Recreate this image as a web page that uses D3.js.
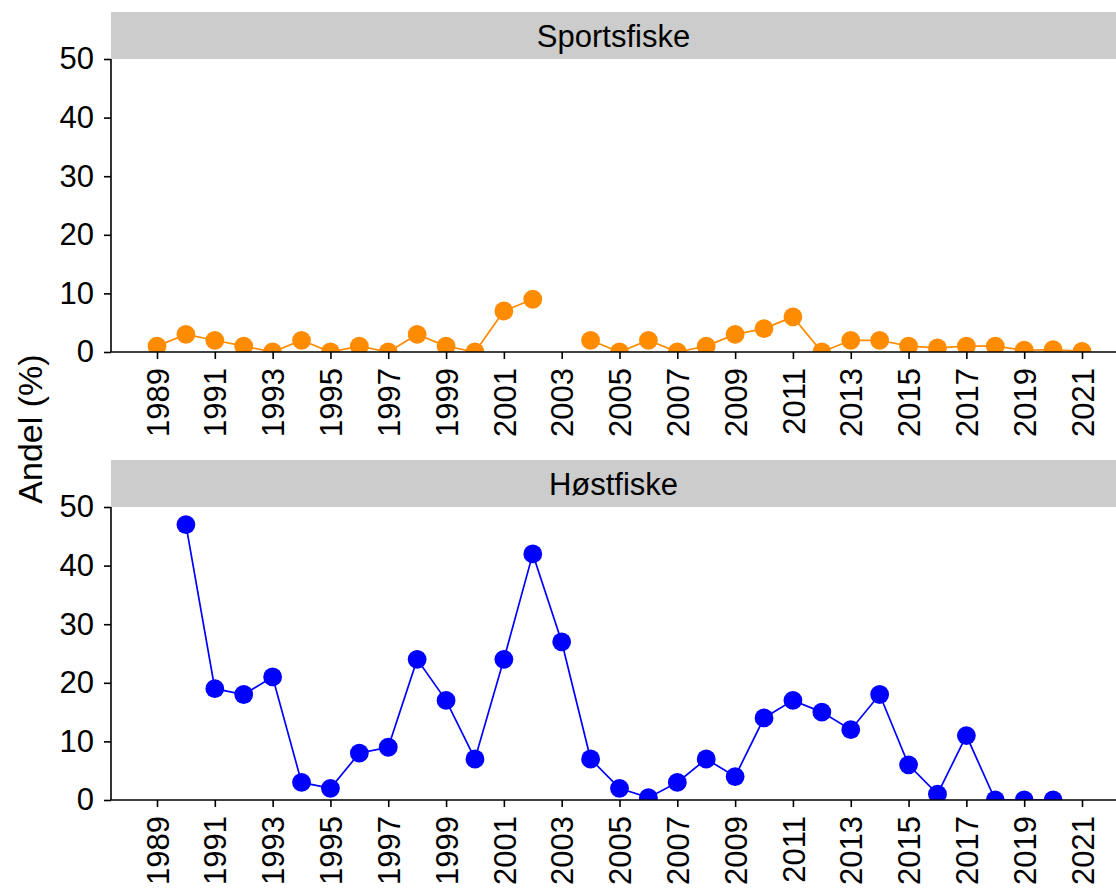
<!DOCTYPE html>
<html>
<head>
<meta charset="utf-8">
<script src="https://cdn.jsdelivr.net/npm/d3@7"></script>
<style>
  body { margin: 0; background: #fff; }
  text { font-family: "Liberation Sans", Arial, sans-serif; fill: #000; }
</style>
</head>
<body>
<div id="chart"></div>
<script>
const years = d3.range(1989, 2022)
// null = no value that year
const sportsfiske = [1, 3, 2, 1, 0, 2, 0, 1, 0, 3, 1, 0, 7, 9, null, 2, 0, 2, 0, 1, 3, 4, 6, 0, 2, 2, 1, 0.7, 1, 1, 0.3, 0.4, 0.1]
const hostfiske = [null, 47, 19, 18, 21, 3, 2, 8, 9, 24, 17, 7, 24, 42, 27, 7, 2, 0.4, 3, 7, 4, 14, 17, 15, 12, 18, 6, 1, 11, 0, 0, 0, null]
const yTicks = [0, 10, 20, 30, 40, 50]
const xTicks = d3.range(1989, 2022, 2)

const panels = [
    {name: "Sportsfiske", values: sportsfiske, color: "#FF8C00", top: 59},
    {name: "Høstfiske", values: hostfiske, color: "#0000FF", top: 507}
]

let width = 1116,
    height = 890,
    left = 111,
    right = 1116,
    panelH = 293,
    stripH = 47,
    fontSize = "31px"

let svg = d3.select("#chart").append("svg")
    .attr("width", width)
    .attr("height", height)

let x = d3.scaleLinear()
    .domain([1989, 2021])
    .range([157, 1082])

panels.forEach((p, k) => {
    let y = d3.scaleLinear()
        .domain([0, 50])
        .range([p.top + panelH, p.top])

    let g = svg.append("g")

    // strip
    g.append("rect")
        .attr("x", left)
        .attr("y", p.top - stripH)
        .attr("width", right - left)
        .attr("height", stripH)
        .attr("fill", "#CCCCCC")
    g.append("text")
        .attr("x", (left + right) / 2)
        .attr("y", p.top - stripH / 2)
        .attr("dy", "0.36em")
        .attr("text-anchor", "middle")
        .style("font-size", fontSize)
        .text(p.name)

    // clip marks to panel
    svg.append("defs").append("clipPath")
        .attr("id", "clip" + k)
        .append("rect")
        .attr("x", left)
        .attr("y", p.top)
        .attr("width", right - left)
        .attr("height", panelH)

    let data = years.map((yr, i) => ({year: yr, value: p.values[i]}))

    let line = d3.line()
        .defined(d => d.value != null)
        .x(d => x(d.year))
        .y(d => y(d.value))

    let marks = g.append("g").attr("clip-path", "url(#clip" + k + ")")
    marks.append("path")
        .attr("d", line(data))
        .attr("fill", "none")
        .attr("stroke", p.color)
        .attr("stroke-width", 1.7)
    marks.selectAll("circle")
        .data(data.filter(d => d.value != null))
        .join("circle")
        .attr("cx", d => x(d.year))
        .attr("cy", d => y(d.value))
        .attr("r", 9.4)
        .attr("fill", p.color)

    // y axis
    let yAxis = g.append("g")
        .attr("transform", "translate(" + left + ",0)")
        .call(d3.axisLeft(y).tickValues(yTicks).tickSize(7).tickPadding(10))
    yAxis.select(".domain").attr("d", "M0," + p.top + "V" + (p.top + panelH))
    yAxis.selectAll("line, path").attr("stroke", "#000").attr("stroke-width", 1.6)
    yAxis.selectAll("text")
        .style("font-size", fontSize)
        .style("font-family", "Liberation Sans, Arial, sans-serif")

    // x axis
    let xAxis = g.append("g")
        .attr("transform", "translate(0," + (p.top + panelH) + ")")
        .call(d3.axisBottom(x).tickValues(xTicks).tickFormat(d3.format("d")).tickSize(7))
    xAxis.select(".domain").attr("d", "M" + left + ",0H" + right)
    xAxis.selectAll("line, path").attr("stroke", "#000").attr("stroke-width", 1.6)
    xAxis.selectAll("text")
        .attr("transform", "rotate(-90)")
        .attr("x", -16)
        .attr("y", 0)
        .attr("dy", "0.36em")
        .attr("text-anchor", "end")
        .style("font-size", fontSize)
        .style("font-family", "Liberation Sans, Arial, sans-serif")
})

svg.append("text")
    .attr("transform", "translate(30,429) rotate(-90)")
    .attr("dy", "0.36em")
    .attr("text-anchor", "middle")
    .style("font-size", "34px")
    .text("Andel (%)")
</script>
</body>
</html>
